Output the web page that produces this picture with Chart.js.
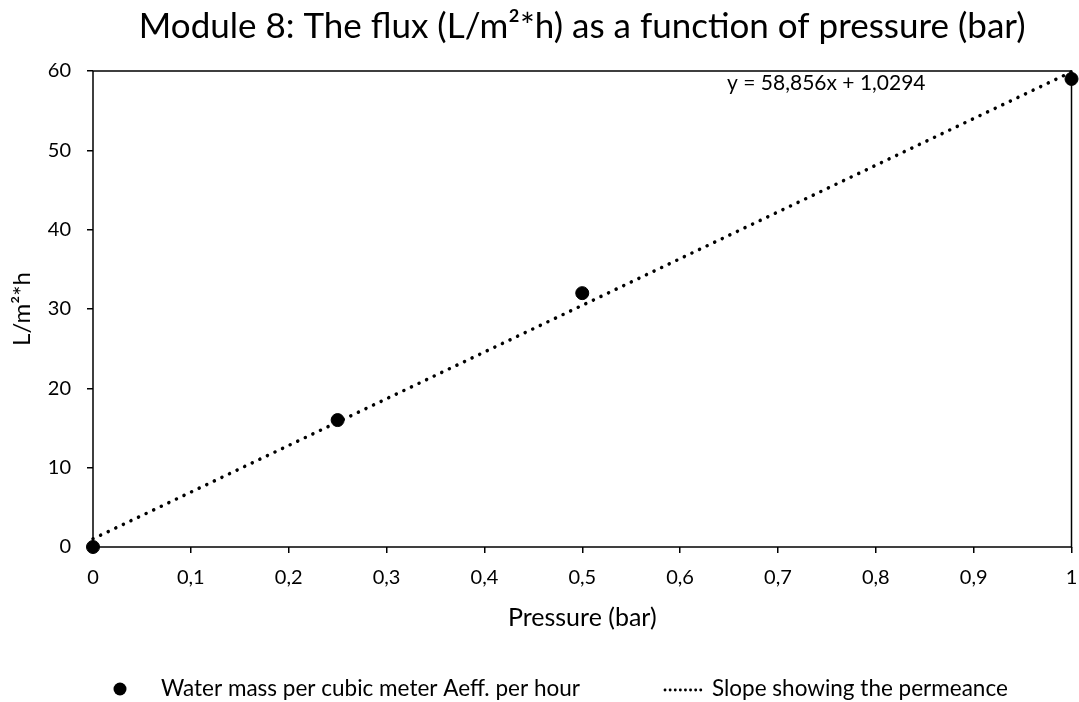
<!DOCTYPE html>
<html>
<head>
<meta charset="utf-8">
<script src="https://cdn.jsdelivr.net/npm/chart.js@4.4.1/dist/chart.umd.min.js"></script>
<style>
  body { margin: 0; background: #fff; }
  #wrap { width: 1079px; height: 702px; }
</style>
</head>
<body>
<div id="wrap"><canvas id="chart"></canvas></div>
<script>
// measured points
const pressure = [0, 0.25, 0.5, 1];
const flux = [0, 16, 32, 59];

// trendline ends
const trendX = [0, 1];
const trendY = [1.03, 59.89];

const xTicks = [0, 0.1, 0.2, 0.3, 0.4, 0.5, 0.6, 0.7, 0.8, 0.9, 1];
const yTicks = [0, 10, 20, 30, 40, 50, 60];

const equation = "y = 58,856x + 1,0294";
const legendLabels = ["Water mass per cubic meter Aeff. per hour", "Slope showing the permeance"];

const FONT = "Lato, 'Noto Sans', sans-serif";

/* frame round the plot area */
const framePlugin = {
  id: "frame",
  beforeDatasetsDraw(chart) {
    const { ctx, chartArea: a } = chart;
    ctx.save();
    ctx.strokeStyle = "#000";
    ctx.lineWidth = 1.5;
    ctx.strokeRect(a.left, a.top, a.right - a.left, a.bottom - a.top);
    ctx.restore();
  },
};

/* equation label + bottom legend */
const extrasPlugin = {
  id: "extras",
  afterDraw(chart) {
    const { ctx } = chart;
    const xs = chart.scales.x, ys = chart.scales.y;
    ctx.save();
    ctx.fillStyle = "#000";
    ctx.font = "21px " + FONT;
    ctx.textBaseline = "middle";
    ctx.fillText(equation, xs.getPixelForValue(0.648), ys.getPixelForValue(58.4));

    // legend
    const ly = 689;
    ctx.beginPath();
    ctx.arc(120, ly, 6.5, 0, Math.PI * 2);
    ctx.fill();
    ctx.font = "22.5px " + FONT;
    ctx.fillText(legendLabels[0], 161, ly);

    ctx.strokeStyle = "#000";
    ctx.lineWidth = 2.8;
    ctx.lineCap = "round";
    ctx.setLineDash([0.1, 5]);
    ctx.beginPath();
    ctx.moveTo(665, ly + 1);
    ctx.lineTo(705, ly + 1);
    ctx.stroke();
    ctx.setLineDash([]);
    ctx.fillText(legendLabels[1], 712, ly);
    ctx.restore();
  },
};

new Chart(document.getElementById("chart"), {
  type: "scatter",
  data: {
    datasets: [
      {
        label: legendLabels[0],
        data: pressure.map((p, i) => ({ x: p, y: flux[i] })),
        backgroundColor: "#000",
        borderColor: "#000",
        pointRadius: 6.5,
        pointHoverRadius: 6.5,
        clip: false,
        order: 0,
      },
      {
        label: legendLabels[1],
        type: "line",
        data: trendX.map((p, i) => ({ x: p, y: trendY[i] })),
        borderColor: "#000",
        borderWidth: 3.5,
        borderDash: [0.1, 8.3],
        borderCapStyle: "round",
        pointRadius: 0,
        fill: false,
        clip: false,
        order: 1,
      },
    ],
  },
  options: {
    responsive: true,
    maintainAspectRatio: false,
    animation: false,
    layout: { padding: { top: 4, right: 7, bottom: 65, left: 0 } },
    plugins: {
      legend: { display: false },
      tooltip: { enabled: false },
      title: {
        display: true,
        text: "Module 8: The flux (L/m²*h) as a function of pressure (bar)",
        fullSize: false,
        color: "#000",
        font: { family: FONT, size: 35, weight: "normal" },
        padding: { top: 2, bottom: 23 },
      },
    },
    scales: {
      x: {
        type: "linear",
        min: 0,
        max: 1,
        afterBuildTicks: (s) => { s.ticks = xTicks.map((v) => ({ value: v })); },
        afterFit: (s) => { s.height = 90; s.paddingLeft = 0; s.paddingRight = 0; },
        ticks: {
          color: "#000",
          font: { family: FONT, size: 20 },
          padding: 13,
          maxRotation: 0,
          callback: (v) => String(v).replace(".", ","),
        },
        grid: { drawOnChartArea: false, drawTicks: true, tickLength: 6, color: "#000", lineWidth: 1.5 },
        border: { display: false },
        title: {
          display: true,
          text: "Pressure (bar)",
          color: "#000",
          font: { family: FONT, size: 25 },
          padding: { top: 0, bottom: 4 },
        },
      },
      y: {
        min: 0,
        max: 60,
        afterBuildTicks: (s) => { s.ticks = yTicks.map((v) => ({ value: v })); },
        afterFit: (s) => { s.width = 93; s.paddingTop = 0; s.paddingBottom = 0; },
        ticks: {
          color: "#000",
          font: { family: FONT, size: 20 },
          padding: 16,
        },
        grid: { drawOnChartArea: false, drawTicks: true, tickLength: 6, color: "#000", lineWidth: 1.5 },
        border: { display: false },
        title: {
          display: true,
          text: "L/m²*h",
          color: "#000",
          font: { family: FONT, size: 24 },
          padding: { top: 7.6, bottom: 0 },
        },
      },
    },
  },
  plugins: [framePlugin, extrasPlugin],
});
</script>
</body>
</html>
